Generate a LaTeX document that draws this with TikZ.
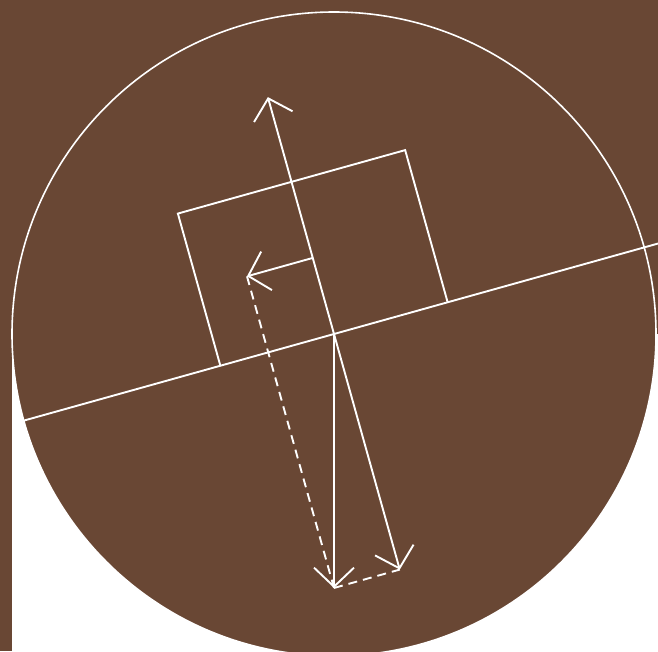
\documentclass[tikz,border=0pt]{standalone}
\usetikzlibrary{arrows.meta,calc}

\definecolor{bark}{RGB}{105,71,52}

\begin{document}
\begin{tikzpicture}[
    x=1pt, y=1pt,
    line/.style={draw=white, line width=1.9pt},
    force/.style={line, -{Straight Barb[length=19pt,width=40pt]}},
    guide/.style={line, dash pattern=on 9pt off 6pt}
]
    \useasboundingbox (0,-651) rectangle (658,0);
    \fill[white] (0,-651) rectangle (658,0);
    \fill[bark] (0,-334) rectangle (658,0);
    \fill[bark] (0,-651) rectangle (12,0);
    \filldraw[fill=bark, draw=white, line width=1.6pt] (334,-334) circle (322pt);

    \begin{scope}[shift={(334,-334)}, rotate=15.6]
        % slope and block
        \coordinate (O) at (0,0);
        \coordinate (slopeL) at (-322,0);
        \coordinate (slopeR) at (340,0);
        \coordinate (boxBL) at (-118,0);
        \coordinate (boxTL) at (-118,158);
        \coordinate (boxTR) at (118,158);
        \coordinate (boxBR) at (118,0);
        \coordinate (C) at (0,79);
        % force tips
        \coordinate (normal) at (0,246);
        \coordinate (weight) at (254.4:254);
        \coordinate (press) at ($(O)!(weight)!(normal)$);
        \coordinate (friction) at ($(C)+(weight)-(press)$);

        \draw[line] (slopeL) -- (slopeR);
        \draw[line] (boxBL) -- (boxTL) -- (boxTR) -- (boxBR);

        \draw[force] (O) -- (normal);
        \draw[force] (C) -- (friction);
        \draw[force] (O) -- (weight);
        \draw[force] (O) -- (press);
        \draw[guide] (friction) -- (weight);
        \draw[guide] (weight) -- (press);
    \end{scope}
\end{tikzpicture}
\end{document}
